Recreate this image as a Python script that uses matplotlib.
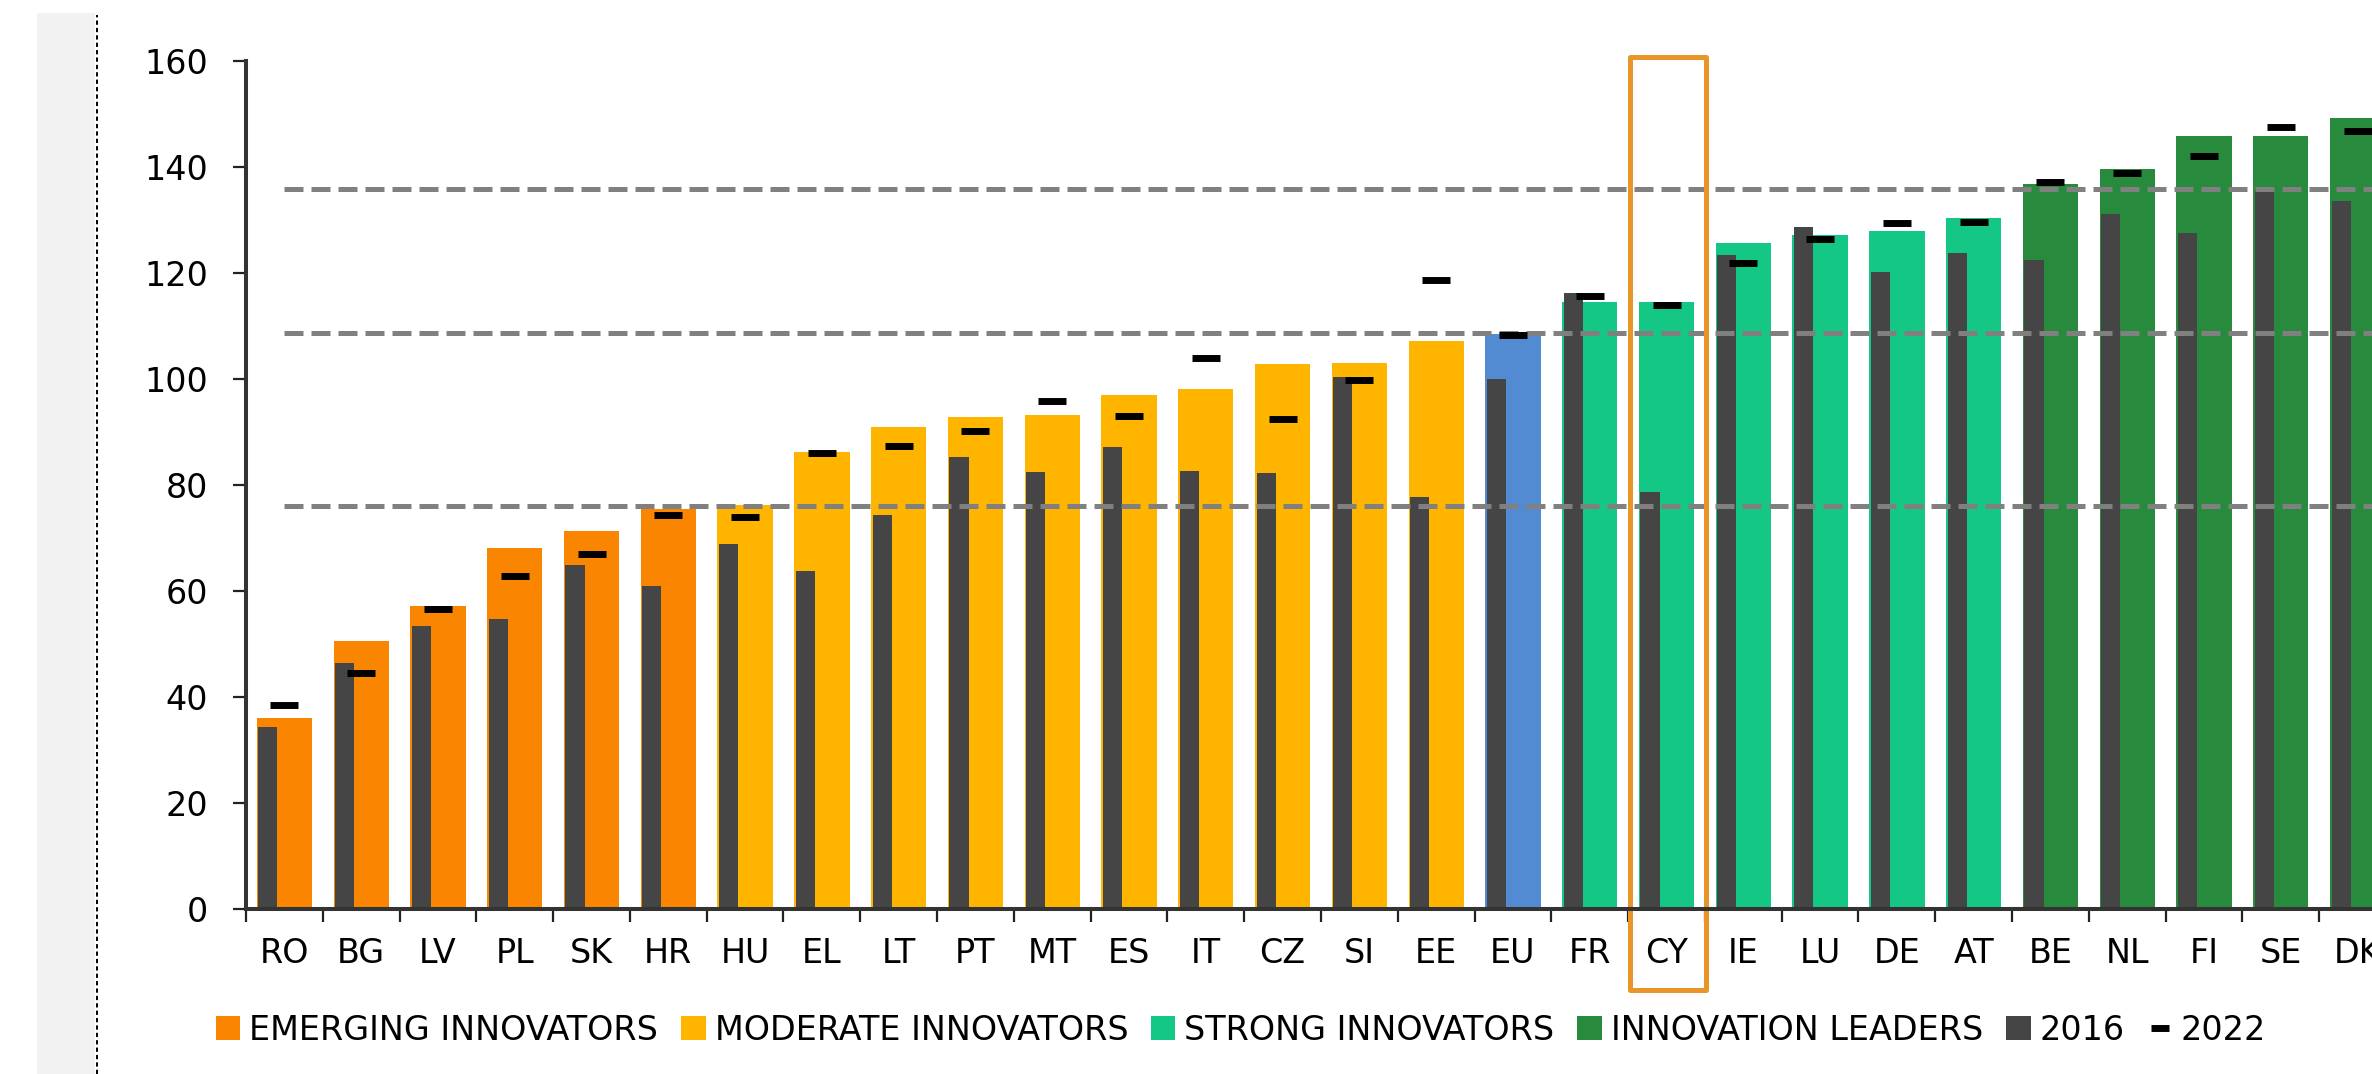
import matplotlib
matplotlib.use("Agg")
import matplotlib.pyplot as plt
from matplotlib.patches import Rectangle, Patch
from matplotlib.lines import Line2D
import numpy as np

# dados
paises = ['RO', 'BG', 'LV', 'PL', 'SK', 'HR', 'HU', 'EL', 'LT', 'PT', 'MT', 'ES', 'IT', 'CZ',
          'SI', 'EE', 'EU', 'FR', 'CY', 'IE', 'LU', 'DE', 'AT', 'BE', 'NL', 'FI', 'SE', 'DK']
grupos = ['E', 'E', 'E', 'E', 'E', 'E', 'M', 'M', 'M', 'M', 'M', 'M', 'M', 'M',
          'M', 'M', 'EU', 'S', 'S', 'S', 'S', 'S', 'S', 'L', 'L', 'L', 'L', 'L']
score_2023 = [36.0, 50.6, 57.2, 68.2, 71.3, 75.4, 76.2, 86.3, 91.0, 92.9, 93.2, 96.9, 98.1, 102.8,
              103.1, 107.2, 108.5, 114.6, 114.6, 125.7, 127.2, 128.0, 130.4, 136.8, 139.6, 145.8, 145.9, 149.3]
score_2016 = [34.4, 46.4, 53.4, 54.8, 64.9, 60.9, 68.8, 63.8, 74.3, 85.3, 82.5, 87.2, 82.7, 82.2,
              100.3, 77.8, 100.0, 116.2, 78.7, 123.4, 128.6, 120.1, 123.7, 122.5, 131.2, 127.5, 135.7, 133.5]
score_2022 = [38.4, 44.6, 56.6, 62.9, 67.0, 74.3, 74.0, 86.0, 87.4, 90.1, 95.8, 93.0, 103.9, 92.5,
              99.9, 118.7, 108.3, 115.7, 113.9, 121.8, 126.4, 129.4, 129.7, 137.2, 138.8, 142.1, 147.5, 146.7]
limiares = [76.0, 108.7, 135.9]
destaque = 'CY'

cores = {'E': '#F98500', 'M': '#FFB500', 'EU': '#538BD3', 'S': '#15C784', 'L': '#288A3C'}
cor_2016 = '#454545'
nomes_legenda = [('E', 'EMERGING INNOVATORS'), ('M', 'MODERATE INNOVATORS'),
                 ('S', 'STRONG INNOVATORS'), ('L', 'INNOVATION LEADERS')]

plt.rcParams['font.family'] = ['DejaVu Sans']
W, H = 2372, 1074
fig = plt.figure(figsize=(W / 100, H / 100), dpi=100)

# faixa cinza e linha pontilhada a esquerda
fig.add_artist(Rectangle((37 / W, 0), 58 / W, 1 - 13 / H, transform=fig.transFigure,
                         facecolor='#f2f2f2', edgecolor='none'))
fig.add_artist(Line2D([97 / W, 97 / W], [0, 1 - 15 / H], transform=fig.transFigure,
                      color='black', lw=1.4, linestyle=(0, (2.2, 1.6))))

ax = fig.add_axes([246 / W, 165 / H, 2150 / W, 848 / H])
x = np.arange(len(paises))

ax.bar(x, score_2023, width=0.72, color=[cores[g] for g in grupos], zorder=2)
ax.bar(x - 0.215, score_2016, width=0.25, color=cor_2016, zorder=3)
ax.hlines(limiares, 0, len(paises) - 0.5, colors='#808080', lw=3.6,
          linestyles=[(0, (3.8, 1.6))], zorder=4)
ax.plot(x, score_2022, linestyle='none', marker='_', markersize=20, markeredgewidth=5,
        color='black', zorder=5)

# caixa de destaque
i = paises.index(destaque)
ax.add_patch(Rectangle((i - 0.48, -15.2), 0.99, 175.9, fill=False, edgecolor='#E8962A',
                       lw=3.6, joinstyle='round', clip_on=False, zorder=6))

ax.set_xlim(-0.5, len(paises) - 0.5)
ax.set_ylim(0, 160)
ax.set_yticks(range(0, 161, 20))
ax.set_xticks(x)
ax.set_xticklabels(paises)
ax.set_xticks(np.arange(-0.5, len(paises), 1), minor=True)
ax.tick_params(axis='x', which='major', length=0, pad=20, labelsize=24)
ax.tick_params(axis='x', which='minor', length=9.4, width=1.6, color='#222222')
ax.tick_params(axis='y', length=9.4, width=1.6, color='#222222', pad=18, labelsize=24)

for s in ['top', 'right']:
    ax.spines[s].set_visible(False)
for s in ['left', 'bottom']:
    ax.spines[s].set_linewidth(2.9)
    ax.spines[s].set_color('#333333')
    ax.spines[s].set_zorder(7)

handles = [Patch(facecolor=cores[k], label=nome) for k, nome in nomes_legenda]
handles.append(Patch(facecolor=cor_2016, label='2016'))
handles.append(Line2D([], [], color='black', marker='_', linestyle='none',
                      markersize=13, markeredgewidth=5, label='2022'))
fig.legend(handles=handles, loc='center', bbox_to_anchor=(1241 / W, 1 - 1030 / H), ncol=6,
           frameon=False, fontsize=24, handlelength=0.74, handleheight=0.74,
           handletextpad=0.27, columnspacing=0.68, borderpad=0, numpoints=1)

fig.savefig('out.png', dpi=100)
